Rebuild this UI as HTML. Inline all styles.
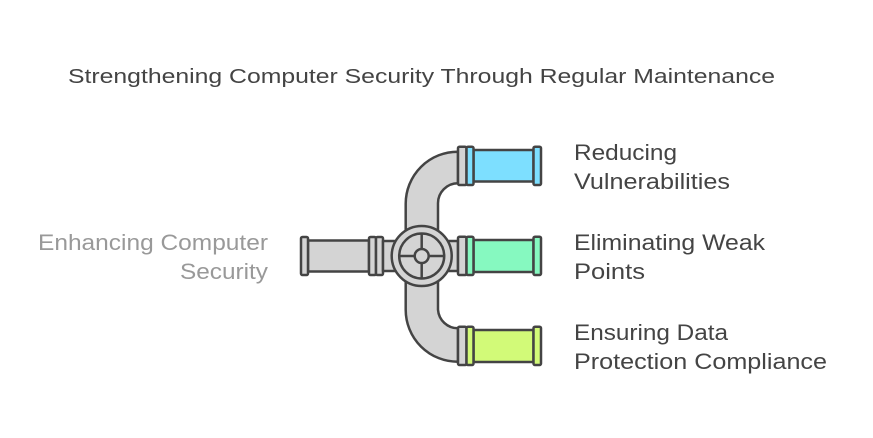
<!DOCTYPE html>
<html><head><meta charset="utf-8"><style>
html,body{margin:0;padding:0;background:#fff;}
svg{display:block;}
text{font-family:"Liberation Sans",Arial,sans-serif;}
</style></head><body>
<svg width="873" height="438" viewBox="0 0 873 438" xmlns="http://www.w3.org/2000/svg">
<text x="68" y="83" font-size="20" fill="#444" textLength="707" lengthAdjust="spacingAndGlyphs">Strengthening Computer Security Through Regular Maintenance</text>

<g font-size="22" fill="#999">
<text x="38" y="250" textLength="230" lengthAdjust="spacingAndGlyphs">Enhancing Computer</text>
<text x="180" y="279" textLength="88" lengthAdjust="spacingAndGlyphs">Security</text>
</g>
<g font-size="22" fill="#444">
<text x="574" y="160" textLength="103" lengthAdjust="spacingAndGlyphs">Reducing</text>
<text x="574" y="189" textLength="156" lengthAdjust="spacingAndGlyphs">Vulnerabilities</text>
<text x="574" y="250" textLength="191" lengthAdjust="spacingAndGlyphs">Eliminating Weak</text>
<text x="574" y="279" textLength="71" lengthAdjust="spacingAndGlyphs">Points</text>
<text x="574" y="340" textLength="154" lengthAdjust="spacingAndGlyphs">Ensuring Data</text>
<text x="574" y="369" textLength="253" lengthAdjust="spacingAndGlyphs">Protection Compliance</text>
</g>

<g stroke="#444" stroke-width="2.5" stroke-linejoin="round">
<!-- vertical curved pipe -->
<path d="M458,151.7 A52,52 0 0 0 405.7,203.7 L405.7,309.7 A52,52 0 0 0 458,361.7 L458,328.3 A20,20 0 0 1 438,309.7 L438,203.7 A20,20 0 0 1 458,183.3 Z" fill="#d4d4d4"/>
<!-- left pipe -->
<rect x="308" y="240.5" width="61" height="31" fill="#d4d4d4"/>
<rect x="301" y="237" width="7" height="38" rx="1.5" fill="#d4d4d4"/>
<rect x="369" y="237" width="7" height="38" rx="1.5" fill="#d4d4d4"/>
<rect x="376" y="237" width="7" height="38" rx="1.5" fill="#d4d4d4"/>
<rect x="383" y="241" width="12" height="30" fill="#d4d4d4"/>
<rect x="445" y="241" width="13" height="30" fill="#d4d4d4"/>
<!-- valve -->
<circle cx="421.7" cy="256" r="30" fill="#d4d4d4"/>
<circle cx="421.7" cy="256" r="22.5" fill="#d4d4d4"/>
<line x1="399.2" y1="256" x2="444.2" y2="256"/>
<line x1="421.7" y1="233.5" x2="421.7" y2="278.5"/>
<circle cx="421.7" cy="256" r="7" fill="#d4d4d4"/>

<!-- top right -->
<rect x="473.5" y="150" width="60" height="31.5" fill="#7ddfff"/>
<rect x="458" y="146.7" width="8.5" height="38.3" rx="1.5" fill="#d4d4d4"/>
<rect x="466.5" y="146.7" width="7" height="38.3" rx="1.5" fill="#7ddfff"/>
<rect x="533.5" y="146.7" width="7.5" height="38.3" rx="1.5" fill="#7ddfff"/>
<!-- middle right -->
<rect x="473.5" y="240" width="60" height="32" fill="#86f9c0"/>
<rect x="458" y="236.7" width="8.5" height="38.3" rx="1.5" fill="#d4d4d4"/>
<rect x="466.5" y="236.7" width="7" height="38.3" rx="1.5" fill="#86f9c0"/>
<rect x="533.5" y="236.7" width="7.5" height="38.3" rx="1.5" fill="#86f9c0"/>
<!-- bottom right -->
<rect x="473.5" y="330" width="60" height="32" fill="#d2fa78"/>
<rect x="458" y="326.7" width="8.5" height="38.3" rx="1.5" fill="#d4d4d4"/>
<rect x="466.5" y="326.7" width="7" height="38.3" rx="1.5" fill="#d2fa78"/>
<rect x="533.5" y="326.7" width="7.5" height="38.3" rx="1.5" fill="#d2fa78"/>
</g>
</svg>
</body></html>
